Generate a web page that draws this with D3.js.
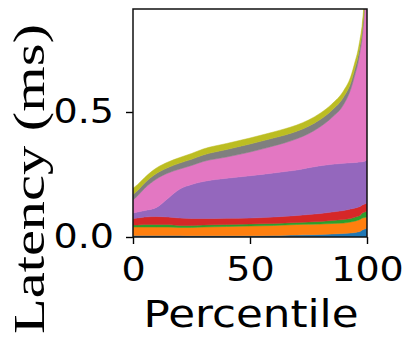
<!DOCTYPE html>
<html>
<head>
<meta charset="utf-8">
<script src="https://cdn.jsdelivr.net/npm/d3@7"></script>
<style>
  html, body { margin: 0; padding: 0; background: #fff; }
  svg { display: block; }
</style>
</head>
<body>
<svg id="chart" width="406" height="338"></svg>
<script>
// ---- data ----
const percentiles = [0, 2, 5, 10, 15, 20, 25, 30, 40, 50, 60, 65, 70, 75, 80, 85, 90, 93, 95, 96, 97, 98, 99, 100];
const seriesNames = ["s1", "s2", "s3", "s4", "s5", "s6", "s7", "s8"];
const s1 = [.006, .006, .006, .006, .006, .006, .005, .005, .005, .005, .006, .007, .008, .009, .010, .012, .014, .016, .018, .020, .022, .028, .032, .036];
const s2 = [.034, .034, .034, .034, .034, .032, .033, .035, .037, .039, .040, .041, .042, .042, .042, .042, .042, .044, .046, .047, .048, .048, .046, .044];
const s3 = [.008, .008, .010, .010, .010, .008, .008, .008, .008, .008, .008, .008, .008, .009, .010, .012, .014, .014, .016, .016, .016, .020, .022, .024];
const s4 = [.026, .028, .030, .032, .030, .030, .028, .026, .025, .024, .026, .027, .028, .030, .032, .034, .036, .038, .036, .036, .036, .032, .032, .032];
const s5 = [.022, .024, .026, .036, .075, .116, .136, .148, .160, .169, .176, .179, .182, .187, .191, .191, .189, .185, .182, .180, .178, .173, .171, .172];
const s6 = [.052, .065, .089, .114, .101, .080, .076, .080, .085, .095, .108, .115, .125, .136, .156, .187, .235, .293, .357, .391, .440, .504, .630, .992];
const s7 = [.022, .021, .021, .022, .022, .024, .025, .026, .030, .032, .032, .031, .030, .030, .029, .029, .030, .025, .025, .025, .025, .025, .030, .030];
const s8 = [.025, .024, .022, .022, .022, .022, .023, .024, .024, .024, .024, .025, .025, .025, .025, .025, .025, .025, .025, .025, .025, .025, .030, .030];
const colors = ["#1f77b4", "#ff7f0e", "#2ca02c", "#d62728", "#9467bd", "#e377c2", "#7f7f7f", "#bcbd22"];
const xTicks = [0, 50, 100];
const yTicks = [0.0, 0.5];
const xLabel = "Percentile";
const yLabel = "Latency (ms)";

// ---- layout ----
const svg = d3.select("#chart");
const L = 133, R = 367, T = 9, B = 237;
const x = d3.scaleLinear().domain([0, 100]).range([L, R]);
const y = d3.scaleLinear().domain([0, 0.912]).range([B, T]);

const allSeries = [s1, s2, s3, s4, s5, s6, s7, s8];
const rows = percentiles.map((p, i) => {
  const r = { p };
  seriesNames.forEach((n, k) => r[n] = allSeries[k][i]);
  return r;
});
const stacked = d3.stack().keys(seriesNames)(rows);

svg.append("defs").append("clipPath").attr("id", "clip")
  .append("rect").attr("x", L).attr("y", T).attr("width", R - L).attr("height", B - T);

const area = d3.area()
  .x(d => x(d.data.p))
  .y0(d => y(d[0]))
  .y1(d => y(d[1]))
  .curve(d3.curveMonotoneX);

svg.append("g").attr("clip-path", "url(#clip)")
  .selectAll("path").data(stacked).join("path")
  .attr("d", area)
  .attr("fill", (d, i) => colors[i])
  .attr("stroke", (d, i) => colors[i])
  .attr("stroke-width", 0.5);

// axes
const fontTick = "'DejaVu Sans', sans-serif";
const xAxis = svg.append("g").attr("transform", `translate(0,${B})`)
  .call(d3.axisBottom(x).tickValues(xTicks).tickFormat(d3.format("d")).tickSize(7).tickPadding(13));
const yAxis = svg.append("g").attr("transform", `translate(${L},0)`)
  .call(d3.axisLeft(y).tickValues(yTicks).tickFormat(d3.format(".1f")).tickSize(7).tickPadding(10));
[xAxis, yAxis].forEach(g => {
  g.select(".domain").remove();
  g.selectAll(".tick line").attr("stroke", "#000").attr("stroke-width", 1.4);
  g.selectAll(".tick text")
    .attr("fill", "#000")
    .style("font-family", fontTick)
    .style("font-size", "34px")
    .attr("transform", "scale(1.12,1)");
});

// frame
svg.append("rect")
  .attr("x", L).attr("y", T).attr("width", R - L).attr("height", B - T)
  .attr("fill", "none").attr("stroke", "#111").attr("stroke-width", 1.5);

// labels
svg.append("text")
  .attr("x", 251).attr("y", 327)
  .attr("text-anchor", "middle")
  .attr("textLength", 215).attr("lengthAdjust", "spacingAndGlyphs")
  .style("font-family", fontTick).style("font-size", "37px")
  .attr("fill", "#000")
  .text(xLabel);

svg.append("text")
  .attr("transform", "translate(44,179) rotate(-90)")
  .attr("text-anchor", "middle")
  .attr("textLength", 310).attr("lengthAdjust", "spacingAndGlyphs")
  .style("font-family", "'Liberation Serif', 'Times New Roman', serif").style("font-size", "45px")
  .attr("fill", "#000")
  .text(yLabel);
</script>
</body>
</html>
